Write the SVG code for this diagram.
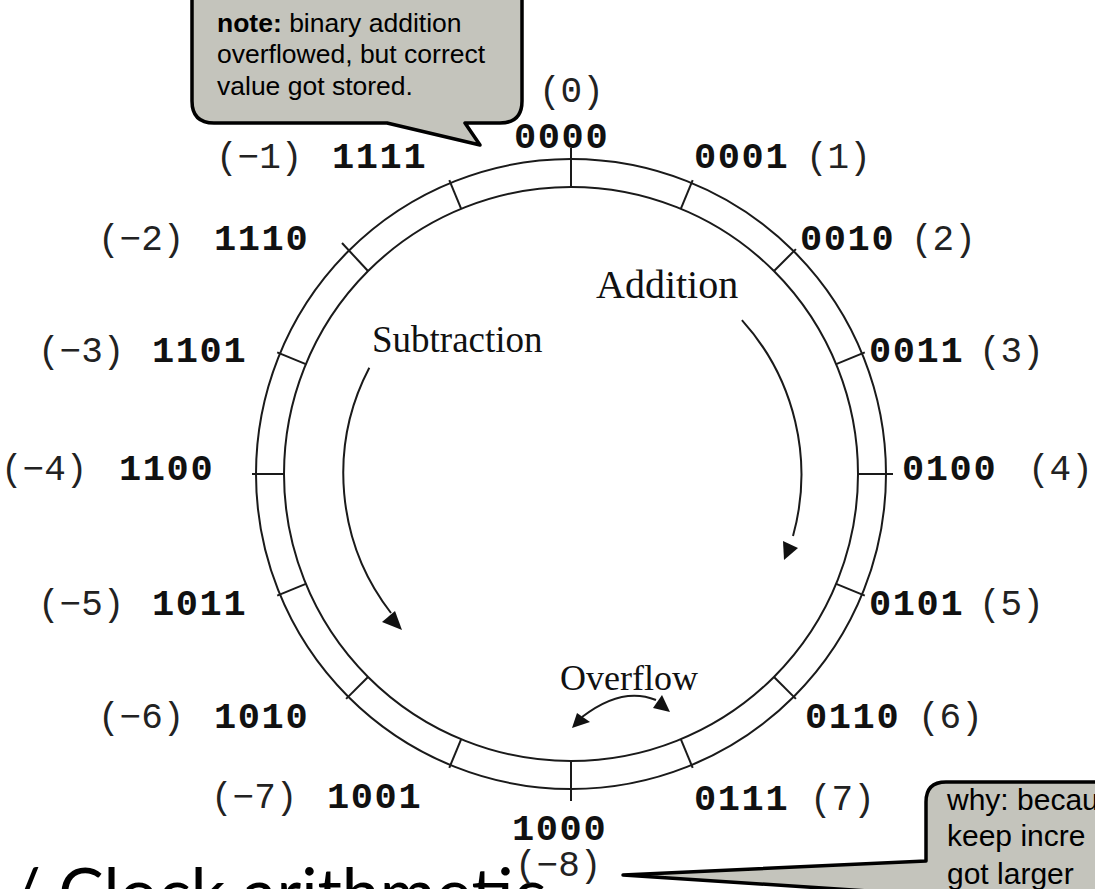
<svg xmlns="http://www.w3.org/2000/svg" width="1095" height="889" viewBox="0 0 1095 889">
  <style>
    .ring { fill: none; stroke: #1a1a1a; stroke-width: 2; }
    .tick { stroke: #1a1a1a; stroke-width: 2; }
    .bin { font-family: "Liberation Mono", "DejaVu Sans Mono", monospace; font-weight: bold; font-size: 37px; fill: #111; letter-spacing: 1.6px; }
    .dec { font-family: "Liberation Mono", "DejaVu Sans Mono", monospace; font-size: 36px; fill: #222; }
    .lbl { font-family: "Liberation Serif", "DejaVu Serif", serif; fill: #111; }
    .arc { fill: none; stroke: #1a1a1a; stroke-width: 2; }
    .head { fill: #111; }
    .callout { fill: #c4c4bc; stroke: #000; stroke-width: 3.5; stroke-linejoin: round; }
    .note { font-family: "Liberation Sans", Arial, sans-serif; font-size: 26.5px; fill: #000; }
    .why { font-family: "Liberation Sans", Arial, sans-serif; font-size: 30px; fill: #000; }
    .title { font-family: Lato, "Open Sans", sans-serif; font-size: 68px; fill: #000; }
  </style>

  <!-- slide title, bottom-left -->
  <text class="title" x="10" y="917">/ Clock arithmetic</text>

  <!-- the 4-bit wheel -->
  <g id="wheel">
    <circle class="ring" cx="571" cy="474" r="315"/>
    <circle class="ring" cx="571" cy="474" r="287"/>
    <g id="ticks">
      <line class="tick" x1="571" y1="187" x2="571" y2="148"/>
      <line class="tick" x1="680.8" y1="208.8" x2="692.7" y2="180.2"/>
      <line class="tick" x1="774" y1="271" x2="795.9" y2="249.1"/>
      <line class="tick" x1="836.2" y1="364.2" x2="864.8" y2="352.3"/>
      <line class="tick" x1="858" y1="474" x2="893" y2="474"/>
      <line class="tick" x1="836.2" y1="583.8" x2="864.8" y2="595.7"/>
      <line class="tick" x1="774" y1="677" x2="795.9" y2="698.9"/>
      <line class="tick" x1="680.8" y1="739.2" x2="692.7" y2="767.8"/>
      <line class="tick" x1="571" y1="761" x2="571" y2="801"/>
      <line class="tick" x1="461.2" y1="739.2" x2="449.3" y2="767.8"/>
      <line class="tick" x1="368" y1="677" x2="346.1" y2="698.9"/>
      <line class="tick" x1="305.8" y1="583.8" x2="277.2" y2="595.7"/>
      <line class="tick" x1="284" y1="474" x2="252" y2="474"/>
      <line class="tick" x1="305.8" y1="364.2" x2="277.2" y2="352.3"/>
      <line class="tick" x1="368" y1="271" x2="342" y2="243"/>
      <line class="tick" x1="461.2" y1="208.8" x2="449.3" y2="180.2"/>
    </g>
  </g>

  <!-- codes with their signed values -->
  <g id="n0"><text class="dec" x="539" y="102">(0)</text><text class="bin" x="514" y="148">0000</text></g>
  <g id="n1"><text class="bin" x="694" y="168">0001</text><text class="dec" x="806" y="168">(1)</text></g>
  <g id="n2"><text class="bin" x="800" y="250">0010</text><text class="dec" x="911" y="250">(2)</text></g>
  <g id="n3"><text class="bin" x="869" y="362">0011</text><text class="dec" x="979" y="362">(3)</text></g>
  <g id="n4"><text class="bin" x="902" y="480">0100</text><text class="dec" x="1028" y="480">(4)</text></g>
  <g id="n5"><text class="bin" x="869" y="615">0101</text><text class="dec" x="979" y="615">(5)</text></g>
  <g id="n6"><text class="bin" x="805" y="728">0110</text><text class="dec" x="918" y="728">(6)</text></g>
  <g id="n7"><text class="bin" x="694" y="810">0111</text><text class="dec" x="810" y="810">(7)</text></g>
  <g id="n8"><text class="bin" x="512" y="840">1000</text><text class="dec" x="515" y="876">(−8)</text></g>
  <g id="n9"><text class="dec" x="211" y="808">(−7)</text><text class="bin" x="327" y="808">1001</text></g>
  <g id="n10"><text class="dec" x="98" y="728">(−6)</text><text class="bin" x="214" y="728">1010</text></g>
  <g id="n11"><text class="dec" x="38" y="615">(−5)</text><text class="bin" x="152" y="615">1011</text></g>
  <g id="n12"><text class="dec" x="1" y="480">(−4)</text><text class="bin" x="119" y="480">1100</text></g>
  <g id="n13"><text class="dec" x="38" y="362">(−3)</text><text class="bin" x="152" y="362">1101</text></g>
  <g id="n14"><text class="dec" x="98" y="250">(−2)</text><text class="bin" x="214" y="250">1110</text></g>
  <g id="n15"><text class="dec" x="216" y="168">(−1)</text><text class="bin" x="332" y="168">1111</text></g>

  <!-- direction labels -->
  <g id="addition"><text class="lbl" x="596" y="298" font-size="40">Addition</text></g>
  <g id="subtraction"><text class="lbl" x="372" y="352" font-size="37">Subtraction</text></g>
  <g id="overflow"><text class="lbl" x="560" y="690" font-size="36">Overflow</text></g>

  <!-- arrows -->
  <g id="connectors">
    <path class="arc" d="M741.9,320.1 A230,230 0 0 1 793,536"/>
    <polygon class="head" points="783,541 784,560 798,548"/>
    <path class="arc" d="M369.3,367.7 A228,228 0 0 0 391,613"/>
    <polygon class="head" points="382,622 395,611 402,630"/>
    <path class="arc" d="M582,717 Q622,686 656,700"/>
    <polygon class="head" points="572,728 577,713 590,722"/>
    <polygon class="head" points="653,708 662,695 670,712"/>
  </g>

  <!-- callouts -->
  <g id="note-top">
    <path class="callout" d="M192,-30 L192,101 Q192,123 214,123 L387,123 L480,145 L465,123 L500,123 Q522,123 522,101 L522,-30 Z"/>
    <text class="note" x="217" y="32"><tspan font-weight="bold">note:</tspan> binary addition</text>
    <text class="note" x="217" y="63">overflowed, but correct</text>
    <text class="note" x="217" y="95">value got stored.</text>
  </g>
  <g id="note-bottom">
    <path class="callout" d="M926,861 L926,802 Q926,782 946,782 L1200,782 L1200,960 L960,960 L960,897 L623,875 Z"/>
    <text class="why" x="947" y="810">why: becau</text>
    <text class="why" x="947" y="846">keep incre</text>
    <text class="why" x="947" y="884">got larger</text>
  </g>
</svg>
